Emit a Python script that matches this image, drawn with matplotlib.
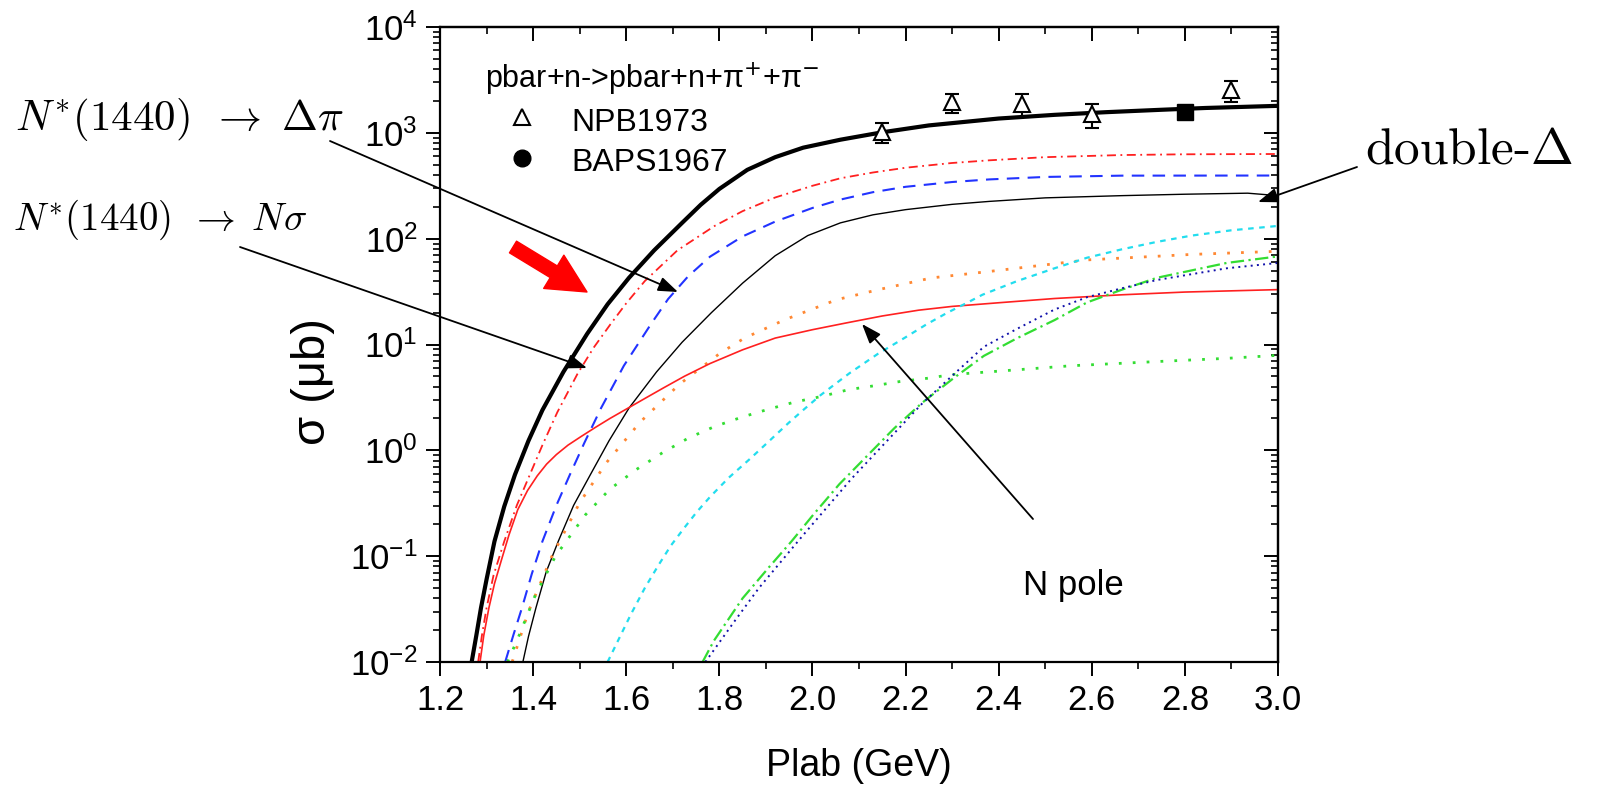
"""
pbar+n -> pbar+n+pi+pi- 截面图
"""
import matplotlib
matplotlib.use('Agg')
import matplotlib.pyplot as plt
from matplotlib.lines import Line2D
from matplotlib.ticker import LogLocator, MultipleLocator, NullFormatter

plt.rcParams['font.family'] = ['Liberation Sans', 'DejaVu Sans']
plt.rcParams['axes.unicode_minus'] = False

# ---- 数据 ----
total_x = [1.268, 1.278, 1.288, 1.30, 1.317, 1.338, 1.361, 1.39, 1.42, 1.465, 1.516, 1.56, 1.606, 1.66,
           1.72, 1.76, 1.80, 1.86, 1.92, 1.98, 2.06, 2.15, 2.25, 2.4, 2.52, 2.63, 2.75, 2.845, 3.0]
total_y = [0.01, 0.0178, 0.0324, 0.0603, 0.138, 0.295, 0.589, 1.23, 2.40, 5.50, 12.6, 24.0, 42.7, 77.6,
           141, 209, 295, 447, 589, 724, 861, 1012, 1175, 1365, 1479, 1567, 1652, 1718, 1799]

# N*(1440) -> N sigma (红色点划线)
dpi_x = [1.282, 1.29, 1.30, 1.315, 1.338, 1.365, 1.393, 1.42, 1.452, 1.495, 1.53, 1.566, 1.60, 1.64,
         1.71, 1.79, 1.85, 1.92, 2.0, 2.06, 2.13, 2.2, 2.3, 2.38, 2.5, 2.665, 2.8, 3.0]
dpi_y = [0.01, 0.0178, 0.0324, 0.066, 0.138, 0.302, 0.589, 1.12, 2.29, 5.25, 9.33, 15.5, 24.5, 39.8,
         77.6, 132, 182, 245, 316, 372, 422, 468, 519, 550, 589, 617, 627, 631]

# N*(1440) -> Delta pi (蓝色虚线)
dpi2_x = [1.34, 1.358, 1.376, 1.397, 1.42, 1.45, 1.479, 1.51, 1.546, 1.595, 1.654, 1.69, 1.733, 1.78,
          1.85, 1.92, 2.0, 2.06, 2.13, 2.2, 2.3, 2.38, 2.5, 2.665, 3.0]
dpi2_y = [0.01, 0.0182, 0.0324, 0.0676, 0.138, 0.302, 0.589, 1.175, 2.51, 6.31, 15.8, 26.9, 44.1, 67.6,
          105, 145, 195, 234, 275, 309, 343, 363, 383, 394, 395]

# double-Delta (细黑线)
dd_x = [1.378, 1.39, 1.406, 1.428, 1.454, 1.487, 1.523, 1.563, 1.606, 1.665, 1.72, 1.783, 1.85, 1.92,
        1.99, 2.06, 2.13, 2.2, 2.3, 2.38, 2.5, 2.665, 2.8, 2.935, 3.0]
dd_y = [0.01, 0.0174, 0.0324, 0.0708, 0.138, 0.302, 0.589, 1.23, 2.51, 5.5, 10.5, 20, 38, 69,
        107, 141, 168, 188, 211, 225, 243, 255, 263, 269, 255]

orange_x = [1.355, 1.39, 1.44, 1.50, 1.558, 1.63, 1.714, 1.802, 1.854, 1.94, 2.052, 2.142, 2.256, 2.38, 2.59, 2.815, 3.0]
orange_y = [0.01, 0.030, 0.099, 0.32, 0.77, 1.85, 4.2, 8.3, 11.5, 17.1, 26.5, 33, 42.6, 49, 63, 71, 76]

# N pole (红色实线)
npole_x = [1.286, 1.294, 1.305, 1.317, 1.331, 1.348, 1.367, 1.388, 1.409, 1.429, 1.45, 1.475, 1.503, 1.535,
           1.565, 1.60, 1.64, 1.68, 1.725, 1.78, 1.85, 1.92, 2.0, 2.073, 2.15, 2.228, 2.3, 2.4, 2.52,
           2.665, 2.8, 3.0]
npole_y = [0.01, 0.0178, 0.0324, 0.055, 0.089, 0.158, 0.275, 0.417, 0.575, 0.741, 0.912, 1.12, 1.35, 1.66,
           2.0, 2.45, 3.09, 3.89, 5.01, 6.61, 8.91, 11.5, 13.8, 16.0, 18.6, 21.1, 22.9, 24.8, 27.2,
           29.5, 31.3, 33.0]

cyan_x = [1.56, 1.585, 1.61, 1.64, 1.67, 1.696, 1.725, 1.752, 1.78, 1.82, 1.866, 1.905, 1.949, 1.98, 2.017,
          2.05, 2.08, 2.14, 2.2, 2.245, 2.29, 2.33, 2.365, 2.44, 2.52, 2.59, 2.665, 2.74, 2.815, 2.9, 3.0]
cyan_y = [0.01, 0.0168, 0.0282, 0.0501, 0.0832, 0.126, 0.186, 0.263, 0.363, 0.550, 0.832, 1.20, 1.82, 2.40, 3.31,
          4.27, 5.37, 8.13, 11.7, 15.5, 20.0, 24.5, 29.5, 39.8, 52.5, 66.1, 79.4, 93.3, 107, 120, 132]

gdot_x = [1.345, 1.368, 1.404, 1.448, 1.512, 1.565, 1.622, 1.678, 1.734, 1.79, 1.85, 1.906, 1.962, 2.021,
          2.077, 2.132, 2.188, 2.246, 2.3, 2.4, 2.556, 2.74, 2.89, 3.0]
gdot_y = [0.01, 0.017, 0.042, 0.10, 0.245, 0.43, 0.66, 0.95, 1.31, 1.68, 2.07, 2.45, 2.86, 3.24,
          3.74, 4.07, 4.47, 4.79, 5.2, 5.6, 6.3, 6.9, 7.4, 7.9]

gdd_x = [1.764, 1.788, 1.85, 1.906, 1.955, 2.003, 2.058, 2.12, 2.176, 2.235, 2.303, 2.368, 2.44, 2.52, 2.59, 2.665, 2.74, 2.89, 3.0]
gdd_y = [0.01, 0.0158, 0.040, 0.078, 0.138, 0.25, 0.48, 0.91, 1.62, 2.8, 4.8, 7.8, 11.5, 17, 25, 33, 42.7, 59, 68]

navy_x = [1.77, 1.83, 1.885, 1.98, 2.084, 2.235, 2.303, 2.368, 2.44, 2.52, 2.59, 2.665, 2.74, 2.89, 3.0]
navy_y = [0.01, 0.0234, 0.050, 0.158, 0.54, 2.75, 5.2, 9.5, 14.1, 21.4, 28, 34, 40.7, 52.5, 59]

# 实验数据
npb_x = [2.15, 2.3, 2.45, 2.6, 2.9]
npb_y = [1020, 1950, 1870, 1500, 2520]
npb_err = [220, 400, 450, 380, 550]
baps_x = [2.8]
baps_y = [1585]
baps_err = [200]

x_ticks = [1.2, 1.4, 1.6, 1.8, 2.0, 2.2, 2.4, 2.6, 2.8, 3.0]

# ---- 画图 ----
W, H = 1598, 788
fig = plt.figure(figsize=(W / 100, H / 100), dpi=100)
ax = fig.add_axes([440 / W, 1 - 662 / H, 838 / W, 635 / H])

ax.plot(dd_x, dd_y, color='black', lw=1.0)
ax.plot(dpi2_x, dpi2_y, color='#2233ff', lw=1.5, dashes=(6, 4))
ax.plot(dpi_x, dpi_y, color='#ff2020', lw=1.3, dashes=(5, 2.5, 1, 2.5))
ax.plot(orange_x, orange_y, color='#ff8833', lw=2.0, dashes=(1, 4))
ax.plot(npole_x, npole_y, color='#ff2020', lw=1.2)
ax.plot(cyan_x, cyan_y, color='#22ddee', lw=1.6, dashes=(2.5, 2.5))
ax.plot(gdot_x, gdot_y, color='#33dd33', lw=2.0, dashes=(1, 4))
ax.plot(gdd_x, gdd_y, color='#33dd33', lw=1.6, dashes=(6, 2, 1, 2))
ax.plot(navy_x, navy_y, color='#1010aa', lw=1.4, dashes=(1, 2.2))
ax.plot(total_x, total_y, color='black', lw=3.0)

ax.errorbar(npb_x, npb_y, yerr=npb_err, fmt='^', color='black', mfc='white', mec='black',
            ms=12, mew=1.5, elinewidth=1.5, capsize=5, capthick=1.5, zorder=5)
ax.errorbar(baps_x, baps_y, yerr=baps_err, fmt='s', color='black', ms=11,
            elinewidth=1.5, capsize=5, capthick=1.5, zorder=5)

ax.set_yscale('log')
ax.set_xlim(1.2, 3.0)
ax.set_ylim(1e-2, 1e4)
ax.set_xticks(x_ticks)
ax.xaxis.set_minor_locator(MultipleLocator(0.1))
ax.yaxis.set_major_locator(LogLocator(base=10, numticks=10))
ax.yaxis.set_minor_locator(LogLocator(base=10, subs=range(2, 10), numticks=20))
ax.yaxis.set_minor_formatter(NullFormatter())

for sp in ax.spines.values():
    sp.set_linewidth(1.6)
ax.tick_params(which='major', direction='out', length=10, width=1.4, labelsize=25, pad=6)
ax.tick_params(which='minor', direction='out', length=5, width=1.2)

# 上边和右边的刻度向内
secx = ax.secondary_xaxis('top')
secx.set_xticks(x_ticks)
secx.xaxis.set_minor_locator(MultipleLocator(0.1))
secx.tick_params(which='major', direction='in', length=10, width=1.4, labeltop=False)
secx.tick_params(which='minor', direction='in', length=5, width=1.2)
secy = ax.secondary_yaxis('right')
secy.yaxis.set_major_locator(LogLocator(base=10, numticks=10))
secy.yaxis.set_minor_locator(LogLocator(base=10, subs=range(2, 10), numticks=20))
secy.tick_params(which='major', direction='in', length=10, width=1.4, labelright=False)
secy.tick_params(which='minor', direction='in', length=5, width=1.2, labelright=False)
for s in (secx, secy):
    for sp in s.spines.values():
        sp.set_linewidth(1.6)

ax.set_xlabel('Plab (GeV)', fontsize=27)
ax.xaxis.set_label_coords(0.5, (662 - 748) / 635)
ax.set_ylabel('σ (μb)', fontsize=34)
ax.yaxis.set_label_coords((335 - 440) / 838, (662 - 382) / 635)

# 图例
handles = [Line2D([], [], marker='^', ls='none', mfc='white', mec='black', ms=12, mew=1.5),
           Line2D([], [], marker='o', ls='none', color='black', ms=12)]
ax.legend(handles, ['NPB1973', 'BAPS1967'], title='pbar+n->pbar+n+π$^{+}$+π$^{-}$',
          loc='upper left', bbox_to_anchor=(485 / W, 1 - 61 / H), bbox_transform=fig.transFigure,
          frameon=False, fontsize=23, title_fontsize=22, alignment='left', borderpad=0,
          borderaxespad=0, handlelength=2.3, handleheight=1.2, handletextpad=0.4, labelspacing=0.2)

# 标注
fig.text(15 / W, 1 - 130 / H, r'$N^{*}(1440)\ \,\rightarrow\ \Delta\pi$', fontsize=31,
         math_fontfamily='cm', ha='left', va='baseline')
fig.text(13 / W, 1 - 230 / H, r'$N^{*}(1440)\enspace\rightarrow\;N\sigma$', fontsize=28,
         math_fontfamily='cm', ha='left', va='baseline')
fig.text(1365 / W, 1 - 163 / H, r'double-$\Delta$', fontsize=37, family='cmr10',
         math_fontfamily='cm', ha='left', va='baseline')
fig.text(1023 / W, 1 - 595 / H, 'N pole', fontsize=25, ha='left', va='baseline')

arrow_kw = dict(arrowstyle='-|>,head_length=0.6,head_width=0.22', color='black', lw=1.3,
                shrinkA=0, shrinkB=0, mutation_scale=20)
arrows = [((330, 141), (678, 292)),
          ((240, 247), (587, 368)),
          ((1357, 167), (1258, 202)),
          ((1033, 519), (862, 324))]
for (x0, y0), (x1, y1) in arrows:
    ax.annotate('', xy=(x1, H - y1), xycoords='figure pixels',
                xytext=(x0, H - y0), textcoords='figure pixels', arrowprops=arrow_kw)

# 红色粗箭头
ax.annotate('', xy=(587, H - 292), xycoords='figure pixels',
            xytext=(513, H - 247), textcoords='figure pixels',
            arrowprops=dict(arrowstyle='simple,head_length=1.0,head_width=1.0,tail_width=0.35',
                            color='red', shrinkA=0, shrinkB=0, mutation_scale=28))

fig.savefig('out.png', dpi=100)
